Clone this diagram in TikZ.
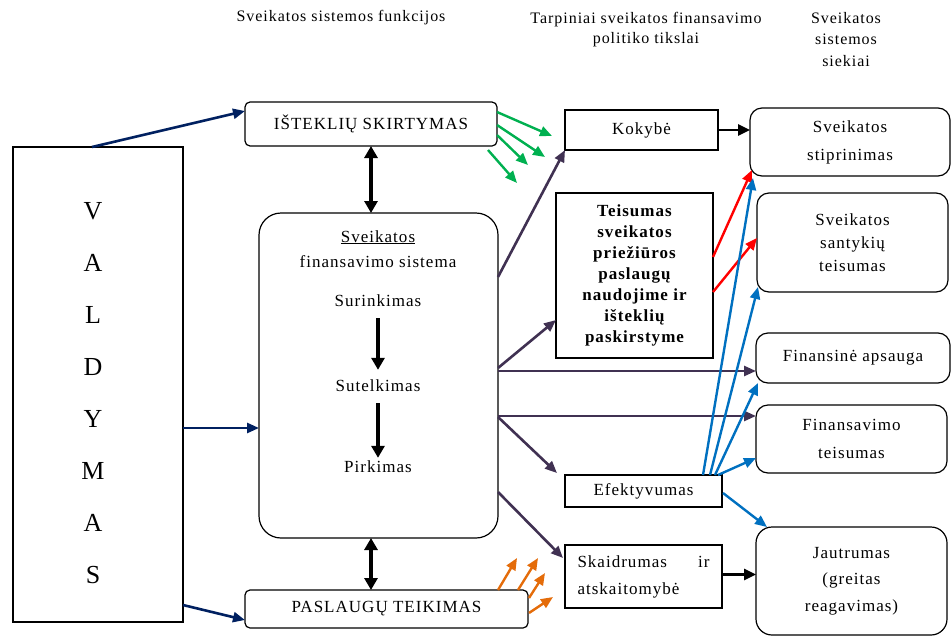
\documentclass[tikz,border=0pt]{standalone}
\usepackage{fontspec}
\setmainfont{Liberation Serif}[LetterSpace=6]
\usetikzlibrary{arrows.meta,calc}
\definecolor{navy}{RGB}{0,32,96}
\definecolor{dpurple}{RGB}{64,49,82}
\definecolor{mgreen}{RGB}{0,176,80}
\definecolor{morange}{RGB}{228,108,10}
\definecolor{mblue}{RGB}{0,112,192}
\begin{document}
\begin{tikzpicture}[x=1pt,y=-1pt,
  box/.style={draw, line width=1.2pt, inner sep=0pt, outer sep=0pt, anchor=north west, align=center},
  sq/.style={box},
  rb/.style={box, rounded corners=12pt},
  txt/.style={inner sep=0pt, text height=12pt, text depth=4pt, font=\fontsize{17}{24}\selectfont},
  hdr/.style={inner sep=0pt, align=center},
  tip/.style={-{Triangle[length=12pt,width=10pt]}},
  navyarr/.style={tip, draw=navy, fill=navy, line width=2.6pt},
  purarr/.style={tip, draw=dpurple, line width=2.6pt},
  blkarr/.style={-{Triangle[length=12pt,width=11pt]}, draw=black, line width=2.6pt},
  thick2/.style={{Triangle[length=12pt,width=13pt]}-{Triangle[length=12pt,width=13pt]}, line width=3.8pt},
  downarr/.style={-{Triangle[length=12pt,width=13pt]}, line width=3.8pt},
  grarr/.style={tip, draw=mgreen, line width=2.4pt},
  orarr/.style={tip, draw=morange, line width=2.4pt},
  redarr/.style={tip, draw=red, line width=2.4pt},
  bluarr/.style={tip, draw=mblue, line width=2.4pt}
]
\useasboundingbox (0,0) rectangle (952,637);

% headers
\node[hdr, font=\fontsize{16}{20}\selectfont] (h1) at (341,18) {Sveikatos sistemos funkcijos};
\node[hdr, font=\fontsize{16}{20}\selectfont] (h2) at (646,30) {Tarpiniai sveikatos finansavimo\\politiko tikslai};
\node[hdr, font=\fontsize{16}{21.5}\selectfont] (h3) at (846,39.5) {Sveikatos\\sistemos\\siekiai};

% left column
\node[sq, minimum width=170pt, minimum height=475pt] (valdymas) at (13,147) {};
\node[hdr, font=\fontsize{26}{52}\selectfont] (vtext) at (93,393) {V\\A\\L\\D\\Y\\M\\A\\S};

% functions
\node[box, rounded corners=5pt, minimum width=252pt, minimum height=44pt, font=\fontsize{17}{24}\selectfont] (istekliu) at (245,102) {IŠTEKLIŲ SKIRTYMAS};
\node[box, rounded corners=22pt, minimum width=239pt, minimum height=325pt] (fin) at (259,213) {};
\node[box, rounded corners=5pt, minimum width=283pt, minimum height=38pt, font=\fontsize{17}{24}\selectfont] (paslaugu) at (245,590) {PASLAUGŲ TEIKIMAS};

\node[txt] (fintitle) at (378,238) {\underline{Sveikatos}};
\node[txt] (finsub) at (378,263) {finansavimo sistema};
\node[txt] (surink) at (378,302) {Surinkimas};
\node[txt] (sutelk) at (378,387) {Sutelkimas};
\node[txt] (pirk) at (378,468) {Pirkimas};

% intermediate goals
\node[sq, minimum width=153pt, minimum height=40pt, font=\fontsize{17}{24}\selectfont] (kokybe) at (565,110) {Kokybė};
\node[sq, minimum width=157pt, minimum height=165pt, font=\fontsize{17}{21}\selectfont\bfseries] (teisumas) at (556,193) {Teisumas\\sveikatos\\priežiūros\\paslaugų\\naudojime ir\\išteklių\\paskirstyme};
\node[sq, minimum width=157pt, minimum height=32pt, font=\fontsize{17}{24}\selectfont] (efekt) at (565,475) {Efektyvumas};
\node[sq, minimum width=157pt, minimum height=63pt, font=\fontsize{17}{27}\selectfont, align=left] (skaidr) at (565,545) {\makebox[132pt][s]{Skaidrumas ir}\\atskaitomybė};

% system goals
\node[rb, minimum width=200pt, minimum height=68pt, font=\fontsize{17}{28}\selectfont] (stipr) at (750,108) {Sveikatos\\stiprinimas};
\node[rb, minimum width=191pt, minimum height=99pt, font=\fontsize{17}{23}\selectfont] (santyk) at (757,193) {Sveikatos\\santykių\\teisumas};
\node[rb, minimum width=194pt, minimum height=50pt, font=\fontsize{17}{24}\selectfont] (finaps) at (756,333) {Finansinė apsauga};
\node[rb, minimum width=191pt, minimum height=68pt, font=\fontsize{17}{28}\selectfont] (finteis) at (756,405) {Finansavimo\\teisumas};
\node[box, rounded corners=16pt, minimum width=191pt, minimum height=108pt, font=\fontsize{17}{26.5}\selectfont] (jautr) at (756,527) {Jautrumas\\(greitas\\reagavimas)};

% navy arrows from VALDYMAS
\draw[navyarr] ([xshift=-6pt]valdymas.north) -- ([yshift=13pt]istekliu.west);
\draw[navyarr] ([yshift=-43.5pt]valdymas.east) -- ([yshift=-43.5pt]valdymas.east -| fin.west);
\draw[navyarr] ([yshift=-220.5pt]valdymas.east) -- ([yshift=-11pt]paslaugu.west);

% black double arrows
\draw[thick2] (istekliu.south) -- (istekliu.south |- fin.north);
\draw[thick2] (istekliu.south |- fin.south) -- (istekliu.south |- paslaugu.north);
\draw[downarr] ([yshift=-8pt]surink.south) -- ([yshift=9pt]sutelk.north);
\draw[downarr] ([yshift=-8pt]sutelk.south) -- ([yshift=2pt]pirk.north);

% purple arrows
\draw[purarr] ([yshift=98.5pt]fin.east) -- (kokybe.south west);
\draw[purarr] ([yshift=7.5pt]fin.east) -- ([yshift=-44.5pt]teisumas.west);
\draw[purarr] ([yshift=4.5pt]fin.east) -- ([yshift=4.5pt]fin.east -| finaps.west);
\draw[purarr] ([yshift=-40.5pt]fin.east) -- ([yshift=-40.5pt]fin.east -| finteis.west);
\draw[purarr] ([yshift=-41.5pt]fin.east) -- ([xshift=-8pt,yshift=2pt]efekt.north west);
\draw[purarr] ([yshift=-116.5pt]fin.east) -- ([xshift=-2pt,yshift=18.5pt]skaidr.west);

% black arrows
\draw[blkarr] (kokybe.east) -- (kokybe.east -| stipr.west);
\draw[blkarr] ([yshift=2pt]skaidr.east) -- ([yshift=2pt]skaidr.east -| jautr.west);

% green arrows
\draw[grarr] ([yshift=12pt]istekliu.east) -- ++(55,24);
\draw[grarr] ([yshift=-1pt]istekliu.east) -- ++(48,32);
\draw[grarr] ([yshift=-11pt]istekliu.east) -- ++(31,30);
\draw[grarr] ([xshift=-9pt,yshift=-4pt]istekliu.south east) -- ++(29,33);

% orange arrows
\draw[orarr] ([xshift=-30pt]paslaugu.north east) -- ++(19,-32);
\draw[orarr] ([xshift=-10pt]paslaugu.north east) -- ++(20,-32);
\draw[orarr] ([xshift=1pt,yshift=-8pt]paslaugu.north east) -- ++(16,-25);
\draw[orarr] ([xshift=1pt,yshift=-23pt]paslaugu.north east) -- ++(24,-16);

% red arrows
\draw[redarr] ([yshift=18.5pt]teisumas.east) -- ([xshift=2pt,yshift=6pt]stipr.south west);
\draw[redarr] ([yshift=-16.5pt]teisumas.east) -- ([yshift=4.5pt]santyk.west);

% blue arrows
\draw[bluarr] ([xshift=-19pt]efekt.north east) -- ([xshift=3pt,yshift=-2pt]stipr.south west);
\draw[bluarr] ([xshift=-12pt]efekt.north east) -- ([xshift=1pt,yshift=5pt]santyk.south west);
\draw[bluarr] ([xshift=-7pt]efekt.north east) -- ([xshift=2pt]finaps.south west);
\draw[bluarr] ([xshift=-4pt]efekt.north east) -- ([yshift=-19pt]finteis.west);
\draw[bluarr] ([xshift=1pt,yshift=-2pt]efekt.east) -- ([xshift=11pt]jautr.north west);
\end{tikzpicture}
\end{document}
